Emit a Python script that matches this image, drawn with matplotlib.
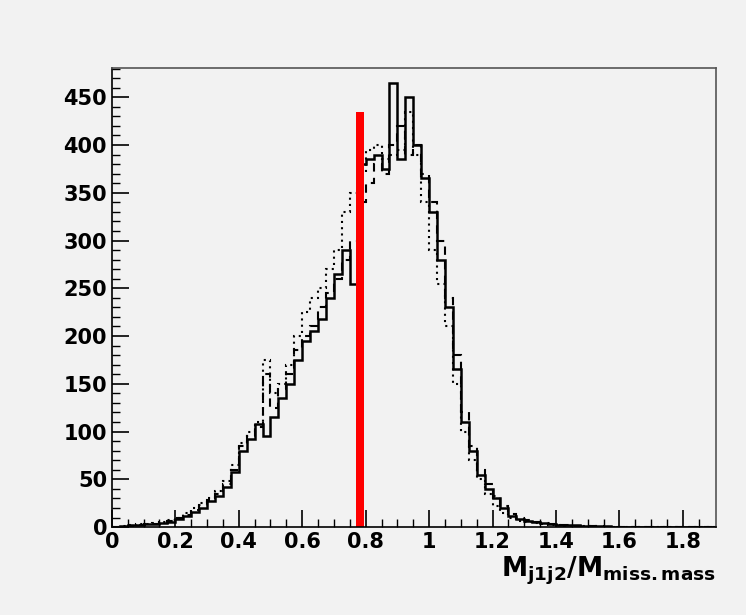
import numpy as np
import matplotlib
matplotlib.use("Agg")
import matplotlib.pyplot as plt

edges = np.round(np.arange(0, 1.9001, 0.025), 4)
solid = [0,1,2,2,3,3,4,5,8,12,16,20,27,32,42,58,80,92,108,95,115,135,150,175,195,205,218,240,265,290,255,
         380,385,390,375,465,385,450,400,365,330,280,230,165,110,80,55,40,30,20,12,8,6,5,4,3,2,2,2,1,1,1,1,0,0,0,0,0,0,0,0,0,0,0,0,0]
dotted = [0,1,2,3,3,4,5,7,10,15,20,25,30,38,48,65,88,100,110,175,140,150,170,200,225,240,250,270,290,330,350,
          370,395,400,385,390,395,435,390,340,290,255,210,150,100,70,50,35,22,15,10,6,5,4,3,2,2,1,1,1,1,0,0,0,0,0,0,0,0,0,0,0,0,0,0,0]
dashed = [0,0,1,2,3,3,4,6,9,13,18,23,28,35,45,60,85,95,105,160,125,145,160,185,200,210,230,245,260,280,300,
          340,360,380,370,400,420,390,400,370,340,300,240,180,120,85,60,45,32,22,14,9,7,5,4,3,2,2,1,1,1,1,0,0,0,0,0,0,0,0,0,0,0,0,0,0]
red_x = [0.768, 0.796]
red_top = 435

fig = plt.figure(figsize=(7.46, 6.15), dpi=100)
fig.patch.set_facecolor("#f2f2f2")
ax = fig.add_axes([0.150, 0.143, 0.810, 0.747])
ax.set_facecolor("#f2f2f2")
ax.stairs(solid, edges, color="black", lw=1.8)
ax.stairs(dotted, edges, color="black", lw=1.5, linestyle=(0, (1, 2)))
ax.stairs(dashed, edges, color="black", lw=1.5, linestyle=(0, (4, 3)))
ax.fill_between(red_x, 0, red_top, color="red", lw=0)
ax.set_xlim(0, 1.905)
ax.set_ylim(0, 481)
ax.set_xticks(np.arange(0, 1.81, 0.2))
ax.set_xticklabels(["0", "0.2", "0.4", "0.6", "0.8", "1", "1.2", "1.4", "1.6", "1.8"])
ax.set_yticks(np.arange(0, 451, 50))
ax.set_xticks(np.arange(0, 1.9, 0.05), minor=True)
ax.set_yticks(np.arange(0, 481, 10), minor=True)
ax.tick_params(which="major", length=12, width=1.2, labelsize=15, direction="in")
ax.tick_params(which="minor", length=6, width=1, direction="in")
for l in ax.get_xticklabels() + ax.get_yticklabels():
    l.set_fontweight("bold")
for s in ax.spines.values():
    s.set_linewidth(1.2)
ax.spines["top"].set_color("#555555")
ax.spines["right"].set_color("#555555")
ax.set_xlabel(r"$\mathbf{M_{j1j2}/M_{miss.mass}}$", fontsize=19, loc="right", labelpad=2)
fig.savefig("out.png", dpi=100, facecolor=fig.get_facecolor())
